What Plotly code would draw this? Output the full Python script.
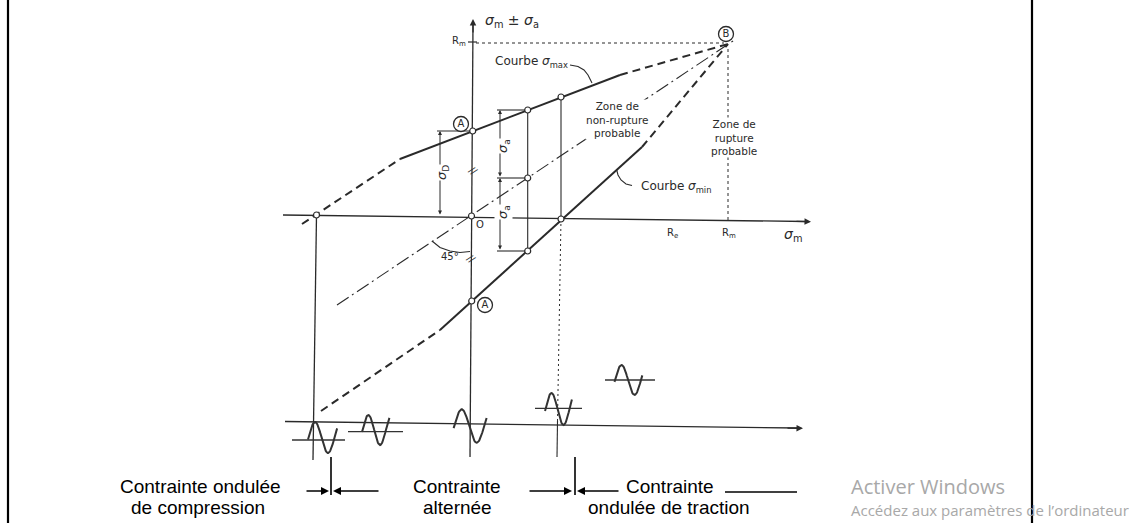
import numpy as np
import plotly.graph_objects as go

W, H = 1146, 523

# ---------------- Diagram geometry (diagram units, y grows downward) ----------------
border_y = [0, 523]
border_left_x = [8, 8]
border_right_x = [1032, 1032]

vaxis_x, vaxis_y = [473, 470], [24, 457]
haxis_x, haxis_y = [283, 806], [215, 221.5]
lowaxis_x, lowaxis_y = [285, 798], [421.5, 428]

rm_line_x, rm_line_y = [476, 724], [43, 43]
rm_tick_x, rm_tick_y = [468, 477], [42, 42]
rm_drop_x, rm_drop_y = [728, 728], [49, 220]

smax_solid_x, smax_solid_y = [400, 620], [159, 75]
smax_dash_x, smax_dash_y = [620, 728], [75, 44]
smax_left_x, smax_left_y = [302, 400], [224, 159]

smin_solid_x, smin_solid_y = [440, 642], [330, 147]
smin_dash_x, smin_dash_y = [642, 728], [147, 44]
smin_left_x, smin_left_y = [321, 440], [411, 330]

smean_x, smean_y = [337, 736], [305, 39]

v527_x, v527_y = [527.7, 527.7], [110, 251]
v561_solid_x, v561_solid_y = [561, 561], [97, 219]
v561_dot_x, v561_dot_y = [561, 557.5], [219, 421]
v561_low_x, v561_low_y = [557.5, 557], [421, 457]
v316_x, v316_y = [316.5, 313], [215, 460]

pts_x = [316.5, 472.7, 527.7, 561, 527.7, 471.5, 561, 527.7, 471.7]
pts_y = [215, 131, 110, 97, 178, 216, 219, 251, 301]

# dimension lines
sa_ticks_y = [110, 178, 251]
sa_ticks_x = [497, 527.7]
sa_x = 500
sd_tick_x, sd_tick_y = [437, 472.7], [131, 131]
sd_x = 440
sd_y = [131, 216]

arc_x = [432, 440, 450, 460, 470]
arc_y = [241, 247.5, 251, 252.5, 251.5]

lead_max_x = [570, 578, 584, 588, 592]
lead_max_y = [65, 66.5, 70, 75, 83]
lead_min_x = [616.7, 618, 621, 626, 632]
lead_min_y = [170, 175, 180, 184, 185.5]

# sine glyphs
glyph_x0 = [308.5, 362.5, 454.2, 545.5, 615]
glyph_period = [26, 23.4, 30, 24, 26]
glyph_yc = [437.5, 430, 426, 409, 380]
glyph_amp = [15.5, 15, 16.7, 16, 15]
glyph_t_end = [1.1, 1.15, 1.08, 1.1, 1.05]
glyph_base_y = [440, 431.7, None, 408.3, 380]
glyph_base_x = [[292, 345], [348, 403], None, [535, 582], [605, 655]]

# bottom arrows: (tip x, tail x, y)
bottom_arrows = [(329, 305, 491), (333, 380, 491), (572, 528, 491), (577, 620, 491)]
bottom_ticks_x = [331, 575]
bottom_ticks_y = [457, 495]
after_line_x, after_line_y = [725, 797], [492, 492]

INK = "#2a2a2a"
LBL = "DejaVu Sans"
fig = go.Figure()


def seg(xs, ys, width=1.3, dash="solid", color=INK):
    fig.add_trace(go.Scatter(x=xs, y=ys, mode="lines", hoverinfo="skip",
                             line=dict(color=color, width=width, dash=dash)))


# borders
seg(border_left_x, border_y, 2.2, color="#000")
seg(border_right_x, border_y, 2.2, color="#000")

# axes
seg(vaxis_x, vaxis_y, 1.3)
seg(haxis_x, haxis_y, 1.3)
seg(lowaxis_x, lowaxis_y, 1.3)
seg(rm_tick_x, rm_tick_y, 1.2)
seg(rm_line_x, rm_line_y, 1, "3px,3px")
seg(rm_drop_x, rm_drop_y, 1, "3px,3px")

# curves
seg(smax_solid_x, smax_solid_y, 2)
seg(smax_dash_x, smax_dash_y, 2, "8px,5px")
seg(smax_left_x, smax_left_y, 2, "8px,5px")
seg(smin_solid_x, smin_solid_y, 2)
seg(smin_dash_x, smin_dash_y, 2, "8px,5px")
seg(smin_left_x, smin_left_y, 2, "8px,5px")
seg(smean_x, smean_y, 1.1, "14px,4px,2px,4px")

# verticals
seg(v527_x, v527_y, 1.1)
seg(v561_solid_x, v561_solid_y, 1.1)
seg(v561_dot_x, v561_dot_y, 1, "2px,3px")
seg(v561_low_x, v561_low_y, 1.1)
seg(v316_x, v316_y, 1.3)

# dimension ticks
for yy in sa_ticks_y:
    seg(sa_ticks_x, [yy, yy], 1.1)
seg(sd_tick_x, sd_tick_y, 1.1)
seg(arc_x, arc_y, 1.1)
seg(lead_max_x, lead_max_y, 1.1)
seg(lead_min_x, lead_min_y, 1.1)

# sine glyphs
for i in range(len(glyph_x0)):
    t = np.linspace(-0.02, glyph_t_end[i], 60)
    gx = glyph_x0[i] + glyph_period[i] * t
    gy = glyph_yc[i] - glyph_amp[i] * np.sin(2 * np.pi * t)
    seg(list(gx), list(gy), 2, color="#333")
    if glyph_base_y[i] is not None:
        seg(glyph_base_x[i], [glyph_base_y[i], glyph_base_y[i]], 1.3, color="#333")

# bottom ticks
for bx in bottom_ticks_x:
    seg([bx, bx], bottom_ticks_y, 1.6, color="#000")
seg(after_line_x, after_line_y, 1.3, color="#000")

# points
fig.add_trace(go.Scatter(x=pts_x, y=pts_y, mode="markers", hoverinfo="skip",
                         marker=dict(symbol="circle", size=6, color="white",
                                     line=dict(color=INK, width=1.2))))

# circled letters
circ_x = [461, 485, 726]
circ_y = [124, 305, 34]
circ_t = ["A", "A", "B"]
fig.add_trace(go.Scatter(x=circ_x, y=circ_y, mode="markers+text", text=circ_t,
                         textposition="middle center", hoverinfo="skip",
                         textfont=dict(family=LBL, size=10, color=INK),
                         marker=dict(symbol="circle", size=15, color="white",
                                     line=dict(color=INK, width=1.3))))

annotations = []


def arrow(tx, ty, fx, fy, width=1.3, color=INK, both=False, size=1.0):
    annotations.append(dict(x=tx, y=ty, ax=fx, ay=fy, xref="x", yref="y",
                            axref="x", ayref="y", text="", showarrow=True,
                            arrowhead=2, arrowsize=size, arrowwidth=width,
                            arrowcolor=color,
                            arrowside="end+start" if both else "end"))


def label(x, y, text, size=10, color=INK, angle=0, xanchor="center",
          family=LBL, bg=None, align="center"):
    d = dict(x=x, y=y, xref="x", yref="y", text=text, showarrow=False,
             font=dict(family=family, size=size, color=color),
             textangle=angle, xanchor=xanchor, yanchor="middle", align=align)
    if bg:
        d["bgcolor"] = bg
        d["borderpad"] = 0
    annotations.append(d)


# axis arrowheads
arrow(473, 19, 473, 34)
arrow(811, 221.7, 795, 221.3)
arrow(803, 428.3, 786, 428)

# dimension arrows
arrow(sa_x, sa_ticks_y[0], sa_x, sa_ticks_y[1], 1.0, both=True, size=0.8)
arrow(sa_x, sa_ticks_y[1], sa_x, sa_ticks_y[2], 1.0, both=True, size=0.8)
arrow(sd_x, sd_y[0], sd_x, sd_y[1], 1.0, both=True, size=0.8)

# bottom arrows
for tx, fx, yy in bottom_arrows:
    arrow(tx, yy, fx, yy, 1.6, color="#000", size=1.0)

# diagram labels
label(512, 21, "<i>σ</i><sub>m</sub> ± <i>σ</i><sub>a</sub>", 14)
label(459, 41, "R<sub>m</sub>", 10)
label(531, 62, "Courbe <i>σ</i><sub>max</sub>", 12, bg="white")
label(617, 119, "Zone de<br>non-rupture<br>probable", 10.5, bg="white")
label(734, 137, "Zone de<br>rupture<br>probable", 10.5, bg="white")
label(676, 187, "Courbe <i>σ</i><sub>min</sub>", 12)
label(672, 233, "R<sub>e</sub>", 10)
label(729, 233, "R<sub>m</sub>", 10)
label(793, 235, "<i>σ</i><sub>m</sub>", 14)
label(480, 224, "O", 10)
label(450, 256, "45°", 10)
label(503, 146, "<i>σ</i><sub>a</sub>", 13, angle=-90, bg="white")
label(503, 212, "<i>σ</i><sub>a</sub>", 13, angle=-90, bg="white")
label(442, 173, "<i>σ</i><sub>D</sub>", 13, angle=-90, bg="white")
label(473, 170, "//", 10, angle=40)
label(471, 258, "//", 10, angle=40)

# bottom labels
BF = "Liberation Sans"
label(200, 486, "Contrainte ondulée", 19, color="#000", family=BF)
label(198, 507, "de compression", 19, color="#000", family=BF)
label(457, 486, "Contrainte", 19, color="#000", family=BF)
label(457, 507, "alternée", 19, color="#000", family=BF)
label(670, 486, "Contrainte", 19, color="#000", family=BF)
label(669, 507, "ondulée de traction", 19, color="#000", family=BF)

# watermark
label(849, 486, "Activer Windows", 20, color="#a8a8a8", xanchor="left",
      family="Open Sans")
label(849, 510, "Accédez aux paramètres de l’ordinateur", 15, color="#a8a8a8",
      xanchor="left", family="Open Sans")

fig.update_layout(
    width=W, height=H, margin=dict(l=0, r=0, t=0, b=0),
    paper_bgcolor="white", plot_bgcolor="white", showlegend=False,
    xaxis=dict(range=[0, W], visible=False, fixedrange=True),
    yaxis=dict(range=[H, 0], visible=False, fixedrange=True),
    annotations=annotations,
)

fig.write_html("out.html", config={"displayModeBar": False},
               post_script="document.body.style.margin='0';document.body.style.overflow='hidden';")
